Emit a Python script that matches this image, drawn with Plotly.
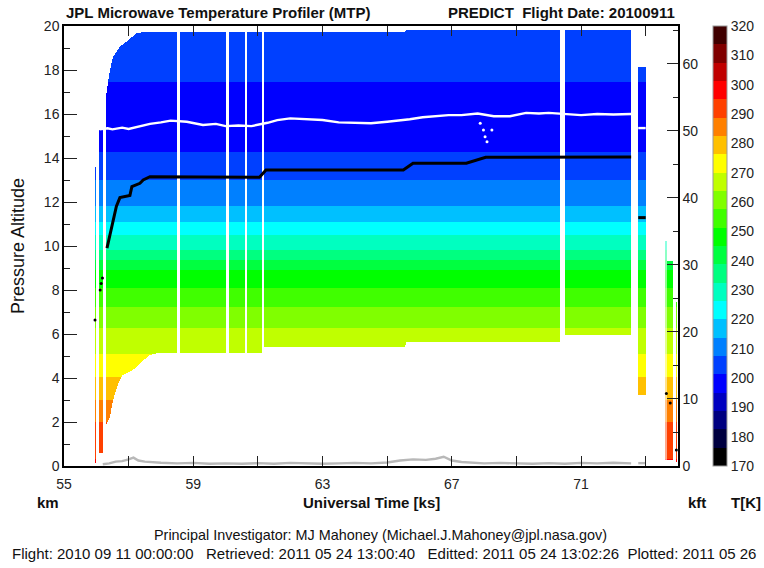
import numpy as np
import plotly.graph_objects as go

# ---------------- data ----------------
# mean temperature profile (pressure altitude km -> temperature K)
profile_alt_km = [0.0, 0.3, 2.0, 3.0, 4.05, 5.1, 6.26, 7.24, 8.07, 8.9, 9.36, 9.82,
                  10.5, 11.1, 11.8, 13.0, 14.29, 15.0, 15.7, 16.5, 17.47, 19.0, 20.0]
profile_temp_K = [297.5, 295.0, 288.75, 282.5, 276.25, 270.0, 263.75, 257.5, 251.25, 245.0, 238.75, 232.5,
                  226.25, 220.0, 213.75, 207.5, 201.25, 197.5, 195.6, 197.5, 201.25, 204.0, 205.0]

# main retrieval curtain: top and bottom of the retrieved profiles vs UT (ks)
top_t_ks = [56.30, 56.42, 56.52, 56.73, 56.94, 57.25, 57.45, 65.50, 65.60, 72.55]
top_km = [16.80, 18.00, 18.60, 19.06, 19.30, 19.67, 19.72, 19.72, 19.80, 19.80]
bot_t_ks = [56.30, 56.42, 56.52, 56.68, 56.82, 57.04, 57.25, 57.45, 57.66, 57.87,
            61.17, 61.20, 65.55, 65.60, 70.40, 70.45, 72.55]
bot_km = [1.86, 2.24, 3.00, 3.77, 4.14, 4.29, 4.50, 4.80, 5.05, 5.12,
          5.12, 5.40, 5.40, 5.65, 5.65, 5.95, 5.95]

# isolated profile columns (start ks, end ks, bottom km, top km)
col_start_ks = [55.95, 56.08, 72.77, 73.66, 73.93]
col_end_ks = [55.99, 56.21, 73.00, 73.85, 73.98]
col_bot_km = [0.15, 0.58, 3.23, 0.27, 0.20]
col_top_km = [13.60, 15.27, 18.15, 9.30, 7.47]
faded_col = [73.60, 73.66, 0.27, 10.23]

# data gaps (start ks, end ks)
gap_start_ks = [58.49, 60.02, 60.60, 61.13, 70.36]
gap_end_ks = [58.58, 60.11, 60.66, 61.19, 70.50]

# tropopause (white)
trop_t_ks = [56.10, 56.35, 56.50, 56.80, 57.00, 57.20, 57.45, 57.66, 58.00, 58.30, 58.80, 59.30,
             59.70, 60.00, 60.40, 60.80, 61.30, 61.60, 62.00, 62.50, 63.00, 63.50, 64.00, 64.50,
             65.00, 65.40, 65.70, 66.10, 66.50, 66.90, 67.30, 67.80, 68.30, 68.80, 69.30, 69.70,
             70.00, 70.50, 71.00, 71.50, 72.00, 72.55, None, 72.77, 73.00]
trop_km = [15.30, 15.35, 15.30, 15.38, 15.32, 15.40, 15.50, 15.55, 15.62, 15.70, 15.65, 15.50,
           15.55, 15.45, 15.48, 15.45, 15.60, 15.72, 15.80, 15.75, 15.73, 15.62, 15.60, 15.58,
           15.65, 15.70, 15.76, 15.85, 15.90, 15.95, 15.95, 16.02, 15.90, 15.90, 16.05, 16.02,
           16.05, 16.00, 15.95, 16.00, 15.98, 16.00, None, 15.36, 15.36]
trop_dip_t_ks = [67.88, 67.98, 68.03, 68.09, 68.24]
trop_dip_km = [15.58, 15.27, 14.97, 14.74, 15.27]

# aircraft pressure altitude (black)
ac_t_ks = [56.33, 56.42, 56.52, 56.62, 56.73, 56.90, 57.04, 57.10, 57.35, 57.45, 57.66,
           61.05, 61.25, 65.50, 65.80, 67.45, 68.05, 72.55, None, 72.77, 73.00]
ac_km = [9.90, 10.50, 11.20, 11.80, 12.20, 12.25, 12.30, 12.70, 12.85, 13.00, 13.15,
         13.12, 13.45, 13.45, 13.76, 13.76, 14.03, 14.05, None, 11.29, 11.29]
ac_dot_t_ks = [55.96, 56.12, 56.15, 56.19, 73.64, 73.76, 73.95]
ac_dot_km = [6.64, 8.00, 8.30, 8.55, 3.30, 2.86, 0.73]

# gray trace near the ground
gnd_t_ks = [56.20, 56.40, 56.60, 56.80, 57.00, 57.15, 57.30, 57.50, 58.00, 58.50, 59.00, 59.50,
            60.00, 60.50, 61.00, 61.50, 62.00, 62.50, 63.00, 63.50, 64.00, 64.50, 65.00, 65.40,
            65.80, 66.20, 66.50, 66.75, 67.00, 67.30, 67.60, 68.00, 68.50, 69.00, 69.50, 70.00,
            70.50, 71.00, 71.50, 72.00, 72.55, None, 72.77, 73.00]
gnd_km = [0.08, 0.12, 0.20, 0.22, 0.30, 0.38, 0.25, 0.20, 0.15, 0.12, 0.14, 0.10,
          0.12, 0.10, 0.13, 0.10, 0.14, 0.12, 0.10, 0.12, 0.14, 0.12, 0.16, 0.25,
          0.30, 0.28, 0.33, 0.42, 0.25, 0.18, 0.16, 0.12, 0.14, 0.12, 0.10, 0.13,
          0.10, 0.14, 0.12, 0.15, 0.12, None, 0.13, 0.13]

temp_ticks = list(range(170, 330, 10))
band_colors = ['#000000', '#000040', '#000080', '#0000c0', '#0000ff', '#0040ff', '#0080ff', '#00c0ff',
               '#00ffff', '#00ffc0', '#00ff80', '#00ff40', '#00ff00', '#40ff00', '#80ff00', '#c0ff00',
               '#ffff00', '#ffc000', '#ff8000', '#ff4000', '#ff0000', '#c00000', '#800000', '#400000']

# ---------------- layout geometry ----------------
W, H = 764, 568
L, R, T, B = 64, 86, 26, 102
PW, PH = W - L - R, H - T - B
X0, X1 = 55.0, 74.0
KM2KFT = 3.28084


def px(xp):
    return (xp - L) / PW


def py(yp):
    return (T + PH - yp) / PH


# ---------------- build the curtain table ----------------
ncol, nrow = PW, PH
dt = (X1 - X0) / ncol
dz = 20.0 / nrow
tc = X0 + dt * (np.arange(ncol) + 0.5)
zc = dz * (np.arange(nrow) + 0.5)
prof = np.interp(zc, profile_alt_km, profile_temp_K)

Z = np.full((nrow, ncol), np.nan)
top_i = np.interp(tc, top_t_ks, top_km)
bot_i = np.interp(tc, bot_t_ks, bot_km)
for k, t in enumerate(tc):
    lo = hi = None
    if bot_t_ks[0] <= t <= bot_t_ks[-1]:
        lo, hi = bot_i[k], top_i[k]
    for s, e, b, tp in zip(col_start_ks, col_end_ks, col_bot_km, col_top_km):
        if s <= t <= e:
            lo, hi = b, tp
    for s, e in zip(gap_start_ks, gap_end_ks):
        if s <= t <= e:
            lo = None
    if lo is not None:
        m = (zc >= lo) & (zc <= hi)
        Z[m, k] = prof[m]

Zf = np.full((nrow, ncol), np.nan)
for k, t in enumerate(tc):
    if faded_col[0] <= t <= faded_col[1]:
        m = (zc >= faded_col[2]) & (zc <= faded_col[3])
        Zf[m, k] = prof[m]

n = len(band_colors)
cscale = []
for i, c in enumerate(band_colors):
    cscale.append([i / n, c])
    cscale.append([(i + 1) / n, c])

Zl = [[None if np.isnan(v) else round(float(v), 2) for v in row] for row in Z]
Zfl = [[None if np.isnan(v) else round(float(v), 2) for v in row] for row in Zf]

fig = go.Figure()
fig.add_trace(go.Heatmap(
    x=tc.round(4).tolist(), y=zc.round(4).tolist(), z=Zl, zmin=170, zmax=320, zsmooth=False,
    colorscale=cscale, hoverinfo='skip',
    colorbar=dict(x=px(713), xanchor='left', xpad=0, ypad=0, thickness=14, len=1, lenmode='fraction',
                  y=0.5, yanchor='middle', tickvals=temp_ticks, ticks='', outlinewidth=1,
                  outlinecolor='#999999', tickfont=dict(family='Liberation Sans, Arial', size=14, color='#222'))))
fig.add_trace(go.Heatmap(
    x=tc.round(4).tolist(), y=zc.round(4).tolist(), z=Zfl, zmin=170, zmax=320, zsmooth=False,
    colorscale=cscale, hoverinfo='skip', showscale=False, opacity=0.45))

fig.add_trace(go.Scatter(x=gnd_t_ks, y=gnd_km, mode='lines', line=dict(color='#b8b8b8', width=2.4),
                         hoverinfo='skip', showlegend=False))
fig.add_trace(go.Scatter(x=trop_t_ks, y=trop_km, mode='lines', line=dict(color='white', width=2.4),
                         hoverinfo='skip', showlegend=False))
fig.add_trace(go.Scatter(x=trop_dip_t_ks, y=trop_dip_km, mode='markers', marker=dict(color='white', size=3),
                         hoverinfo='skip', showlegend=False))
fig.add_trace(go.Scatter(x=ac_t_ks, y=ac_km, mode='lines', line=dict(color='black', width=3),
                         hoverinfo='skip', showlegend=False))
fig.add_trace(go.Scatter(x=ac_dot_t_ks, y=ac_dot_km, mode='markers', marker=dict(color='black', size=3),
                         hoverinfo='skip', showlegend=False))
# right-hand kft axis companion (invisible)
fig.add_trace(go.Scatter(x=[X0, X1], y=[0, 20 * KM2KFT], yaxis='y2', mode='markers',
                         marker=dict(opacity=0), hoverinfo='skip', showlegend=False))

FONT = 'Liberation Sans, Arial, sans-serif'
xt = list(range(55, 75, 2))
xtt = [str(v) if (v - 55) % 4 == 0 else '' for v in xt]

fig.update_layout(
    width=W, height=H, margin=dict(l=L, r=R, t=T, b=B, autoexpand=False),
    paper_bgcolor='white', plot_bgcolor='white', showlegend=False,
    font=dict(family=FONT, size=14, color='#222'),
    xaxis=dict(range=[X0, X1], tickvals=xt, ticktext=xtt, ticks='inside', ticklen=10, tickwidth=1,
               tickcolor='#222', showline=True, linecolor='black', linewidth=1.5, mirror='ticks',
               showgrid=False, zeroline=False, tickfont=dict(size=14), ticklabelstandoff=4),
    yaxis=dict(range=[0, 20], tickvals=list(range(0, 21, 2)), ticks='inside', ticklen=13, tickwidth=1,
               tickcolor='#222', showline=True, linecolor='black', linewidth=1.5, showgrid=False,
               zeroline=False, tickfont=dict(size=14),
               minor=dict(tickvals=list(range(1, 20, 2)), ticks='inside', ticklen=6, tickcolor='#222')),
    yaxis2=dict(range=[0, 20 * KM2KFT], overlaying='y', side='right', anchor='x',
                tickvals=list(range(0, 61, 10)), ticks='inside', ticklen=11, tickwidth=1, tickcolor='#222',
                showline=True, linecolor='black', linewidth=1.5, showgrid=False, zeroline=False,
                tickfont=dict(size=14),
                minor=dict(tickvals=list(range(5, 66, 10)), ticks='inside', ticklen=5, tickcolor='#222')),
)

ann = [
    dict(text='<b>JPL Microwave Temperature Profiler (MTP)</b>', x=px(64), y=py(12), xanchor='left', size=15),
    dict(text='<b>PREDICT  Flight Date: 20100911</b>', x=px(677), y=py(12), xanchor='right', size=15),
    dict(text='<b>km</b>', x=px(48), y=py(502), xanchor='center', size=15),
    dict(text='<b>Universal Time [ks]</b>', x=px(371), y=py(502), xanchor='center', size=15),
    dict(text='<b>kft</b>', x=px(697), y=py(502), xanchor='center', size=15),
    dict(text='<b>T[K]</b>', x=px(746), y=py(502), xanchor='center', size=15),
    dict(text='Principal Investigator: MJ Mahoney (Michael.J.Mahoney@jpl.nasa.gov)', x=px(380), y=py(535),
         xanchor='center', size=14.4),
    dict(text='Flight: 2010 09 11 00:00:00   Retrieved: 2011 05 24 13:00:40   Editted: 2011 05 24 13:02:26  '
              'Plotted: 2011 05 26', x=px(10), y=py(553), xanchor='left', size=15),
]
for a in ann:
    fig.add_annotation(text=a['text'], x=a['x'], y=a['y'], xref='paper', yref='paper', xanchor=a['xanchor'],
                       yanchor='middle', showarrow=False, font=dict(family=FONT, size=a['size'], color='#111'))
fig.add_annotation(text='Pressure Altitude', x=px(18), y=py(246), xref='paper', yref='paper', textangle=-90,
                   xanchor='center', yanchor='middle', showarrow=False, font=dict(family=FONT, size=18, color='#111'))

fig.write_html('out.html')
